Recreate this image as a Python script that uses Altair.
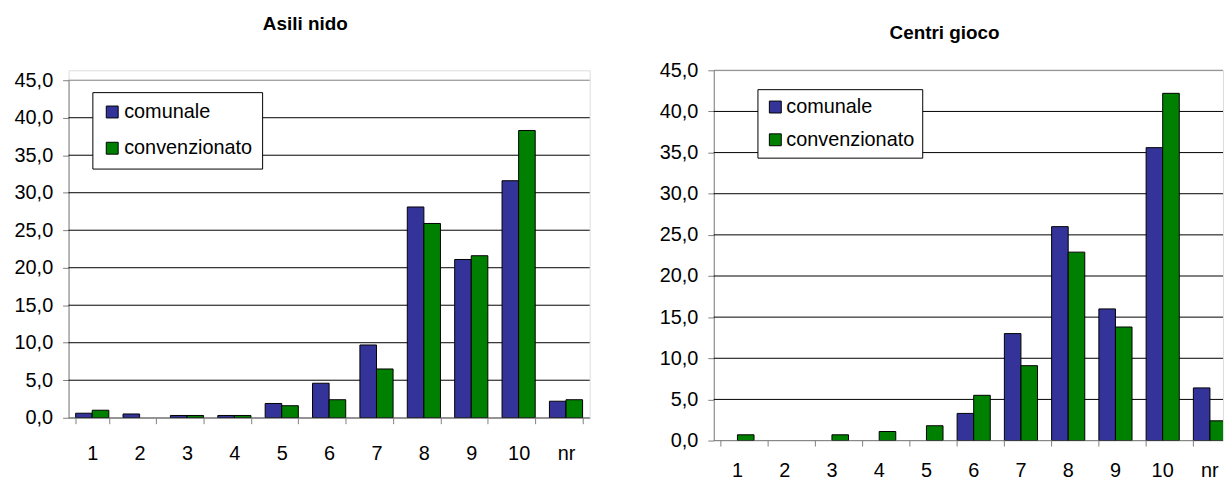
import altair as alt
import pandas as pd

categories = ["1", "2", "3", "4", "5", "6", "7", "8", "9", "10", "nr"]
series = ["comunale", "convenzionato"]

asili_comunale = [0.6, 0.5, 0.3, 0.3, 1.9, 4.6, 9.7, 28.1, 21.1, 31.6, 2.2]
asili_convenzionato = [1.0, 0.0, 0.3, 0.3, 1.6, 2.4, 6.5, 25.9, 21.6, 38.3, 2.4]

centri_comunale = [0.0, 0.0, 0.0, 0.0, 0.0, 3.3, 13.0, 26.0, 16.0, 35.6, 6.4]
centri_convenzionato = [0.7, 0.0, 0.7, 1.1, 1.8, 5.5, 9.1, 22.9, 13.8, 42.2, 2.4]

y_ticks = [0, 5, 10, 15, 20, 25, 30, 35, 40, 45]
colors = ["#333399", "#008000"]
FONT = "Liberation Sans"
GRAY = "#808080"


def make_df(com, conv):
    rows = []
    for c, a, b in zip(categories, com, conv):
        rows.append({"cat": c, "serie": series[0], "v": a})
        rows.append({"cat": c, "serie": series[1], "v": b})
    return pd.DataFrame(rows)


def panel(df, title, title_dx, title_offset, width, height, y_range, x_range,
          legend_x, legend_y, legend_font, legend_pad, legend_row, legend_off,
          x_label_pad, use_axis):
    xscale = dict(domain=categories, paddingInner=0.3, paddingOuter=0.15)
    if x_range is not None:
        xscale["range"] = x_range
    if use_axis:
        x_axis = alt.Axis(
            title=None, labelAngle=0, labelFont=FONT, labelFontSize=20,
            labelColor="black", labelPadding=x_label_pad,
            tickBand="extent", tickSize=6, tickColor=GRAY,
            domainColor=GRAY, grid=False,
        )
    else:
        x_axis = None
    x = alt.X("cat:N", sort=categories, scale=alt.Scale(**xscale), axis=x_axis)
    y_scale = alt.Scale(domain=[0, 45], range=y_range, nice=False, zero=True)
    y = alt.Y(
        "v:Q",
        scale=y_scale,
        axis=alt.Axis(
            title=None, values=y_ticks,
            labelExpr="replace(format(datum.value, '.1f'), '.', ',')",
            labelFont=FONT, labelFontSize=20, labelColor="black",
            labelPadding=10, tickSize=6, tickColor=GRAY,
            domainColor=GRAY, grid=False, labelOverlap=False,
            minExtent=50, maxExtent=50,
        ),
    )
    color = alt.Color(
        "serie:N",
        scale=alt.Scale(domain=series, range=colors),
        legend=alt.Legend(
            title=None, orient="none", legendX=legend_x, legendY=legend_y,
            labelFont=FONT, labelFontSize=legend_font, labelColor="black",
            labelOffset=legend_off, symbolType="square", symbolSize=144,
            symbolStrokeColor="black", symbolStrokeWidth=1, symbolOpacity=1,
            padding=legend_pad, rowPadding=legend_row,
            strokeColor="#000000", fillColor="white", cornerRadius=0,
            labelLimit=300,
        ),
    )

    # horizontal gridlines spanning the visible plot width only
    grid_df = pd.DataFrame({"v": y_ticks})
    grid = (
        alt.Chart(grid_df)
        .transform_calculate(c="datum.v == 45 || datum.v == 0 ? '#808080' : '#000000'")
        .mark_rule(strokeWidth=1)
        .encode(
            y=y,
            x=alt.value(0),
            x2=alt.value(width),
            stroke=alt.Stroke("c:N", scale=None, legend=None),
        )
    )

    bars = (
        alt.Chart(df)
        .transform_filter("datum.v > 0")
        .mark_bar(stroke="black", strokeWidth=1, clip=True)
        .encode(
            x=x,
            xOffset=alt.XOffset("serie:N", sort=series,
                                scale=alt.Scale(domain=series, paddingInner=0, paddingOuter=0)),
            y=y,
            color=color,
        )
    )
    layers = [grid, bars]
    if not use_axis:
        cat_df = pd.DataFrame({"cat": categories})
        ticks = (
            alt.Chart(cat_df)
            .mark_rule(color=GRAY, strokeWidth=1)
            .encode(
                x=alt.X("cat:N", sort=categories, bandPosition=0),
                y=alt.value(height),
                y2=alt.value(height + 6),
            )
        )
        labels = (
            alt.Chart(cat_df)
            .mark_text(font=FONT, fontSize=20, color="black", baseline="top", align="center")
            .encode(
                x=alt.X("cat:N", sort=categories),
                y=alt.value(height + 6 + x_label_pad),
                text="cat:N",
            )
        )
        layers += [ticks, labels]
    return alt.layer(*layers).properties(
        width=width,
        height=height,
        title=alt.TitleParams(
            text=title, font=FONT, fontSize=19, fontWeight="bold",
            color="black", anchor="middle", dx=title_dx,
            offset=title_offset, frame="group", baseline="alphabetic",
        ),
    )


left = panel(make_df(asili_comunale, asili_convenzionato), "Asili nido",
             -24, 22, 525, 350, [350, 10], None,
             24, 22, 20, 10, 16.5, 2, 20, True)
right = panel(make_df(centri_comunale, centri_convenzionato), "Centri gioco",
              -24, 3, 513, 373, [373, 0], [0, 523.6],
              44, 19, 20, 8, 13, 1, 15, False)

chart = (
    alt.hconcat(left, right, spacing=125, bounds="flush")
    .resolve_scale(color="independent")
    .resolve_legend(color="independent")
    .properties(padding={"left": 5, "top": 4, "right": 0, "bottom": 0})
    .configure_view(stroke=None)
    .configure(background="white")
)

chart.save("out.html", embed_options={"renderer": "svg", "actions": False})
